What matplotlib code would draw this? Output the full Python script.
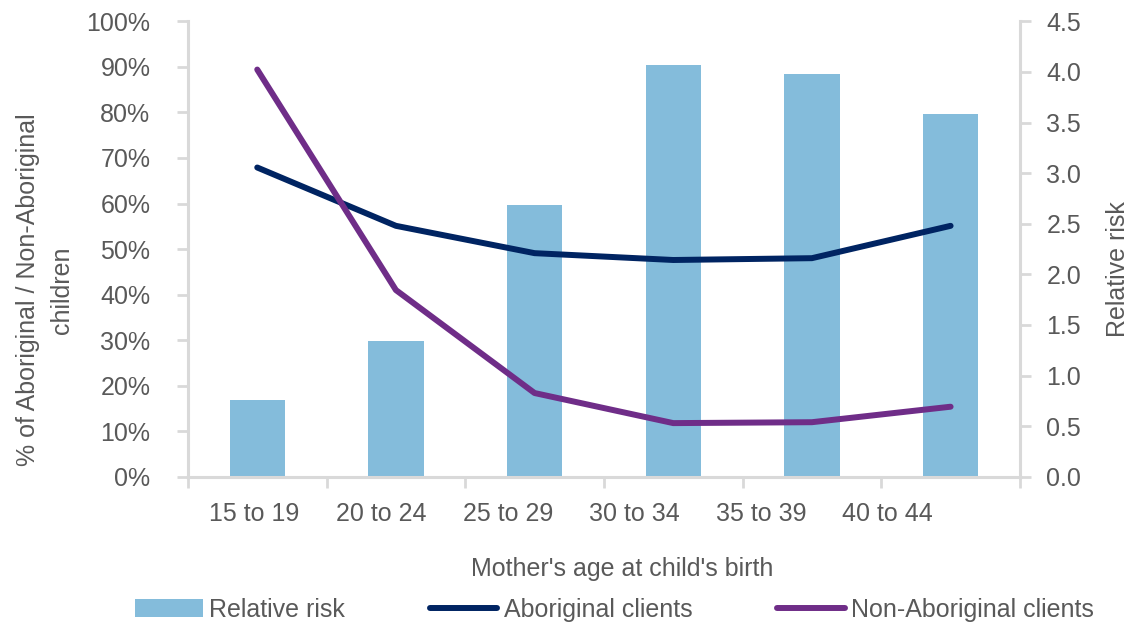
import matplotlib
matplotlib.use("Agg")
import matplotlib.pyplot as plt
import numpy as np
from matplotlib.ticker import FuncFormatter, MultipleLocator, FixedLocator
from matplotlib.patches import Patch
from matplotlib.lines import Line2D

categories = ["15 to 19", "20 to 24", "25 to 29", "30 to 34", "35 to 39", "40 to 44"]
relative_risk = [0.76, 1.34, 2.69, 4.07, 3.98, 3.58]
aboriginal = [67.9, 55.1, 49.1, 47.6, 48.0, 55.1]
non_aboriginal = [89.4, 41.0, 18.4, 11.8, 12.0, 15.4]

plt.rcParams['font.family'] = ['Liberation Sans', 'DejaVu Sans']
TXT = '#595959'
AX = '#d9d9d9'
BAR = '#84bcdb'
NAVY = '#002462'
PURPLE = '#6f2d88'
FS = 18
LW = 4.3

fig = plt.figure(figsize=(11.32, 6.25), dpi=100)
ax = fig.add_axes([0.166, 0.237, 0.735, 0.729])
ax2 = ax.twinx()

x = np.arange(len(categories))

# bars on right axis (drawn behind lines)
ax2.bar(x, relative_risk, width=0.4, color=BAR, zorder=1)
ax2.set_ylim(0, 4.5)
ax2.yaxis.set_major_locator(MultipleLocator(0.5))
ax2.yaxis.set_major_formatter(FuncFormatter(lambda v, p: f"{v:.1f}"))

# lines on left axis drawn above bars
ax.set_zorder(ax2.get_zorder() + 1)
ax.patch.set_visible(False)
ax.plot(x, aboriginal, color=NAVY, lw=LW, solid_capstyle='round', solid_joinstyle='round', zorder=3)
ax.plot(x, non_aboriginal, color=PURPLE, lw=LW, solid_capstyle='round', solid_joinstyle='round', zorder=3)
ax.set_ylim(0, 100)
ax.set_xlim(-0.5, len(categories) - 0.5)
ax.yaxis.set_major_locator(MultipleLocator(10))
ax.yaxis.set_major_formatter(FuncFormatter(lambda v, p: f"{v:.0f}%"))

# x ticks: boundary marks + labels
ax.xaxis.set_minor_locator(FixedLocator(np.arange(len(categories) + 1) - 0.5))
ax.set_xticks(x * 0.913 - 0.02)
ax.set_xticklabels(categories)
ax.tick_params(axis='x', which='major', length=0, pad=18, labelsize=FS, labelcolor=TXT)
ax.tick_params(axis='x', which='minor', length=8, width=2, color=AX, direction='out')
ax.tick_params(axis='y', length=8, width=2, color=AX, pad=19, labelsize=FS, labelcolor=TXT)
ax2.tick_params(axis='y', length=8, width=2, color=AX, pad=11, labelsize=FS, labelcolor=TXT)

for a in (ax, ax2):
    a.spines['top'].set_visible(False)
    for s in ('left', 'right', 'bottom'):
        a.spines[s].set_color(AX)
        a.spines[s].set_linewidth(2.2)
ax.spines['right'].set_visible(False)
ax2.spines['left'].set_visible(False)
ax2.spines['bottom'].set_visible(False)

ax.set_xlabel("Mother's age at child's birth", fontsize=FS, color=TXT)
ax.xaxis.set_label_coords(0.522, -0.175)
ax.set_ylabel("% of Aboriginal / Non-Aboriginal\nchildren", fontsize=FS, color=TXT, linespacing=1.5)
ax.yaxis.set_label_coords(-0.137, 0.41)
ax2.set_ylabel("Relative risk", fontsize=FS, color=TXT)
ax2.yaxis.set_label_coords(1.104, 0.456)

handles = [Patch(facecolor=BAR, edgecolor='none'),
           Line2D([0], [0], color=NAVY, lw=LW, solid_capstyle='round'),
           Line2D([0], [0], color=PURPLE, lw=LW, solid_capstyle='round')]
leg = fig.legend(handles, ["Relative risk", "Aboriginal clients", "Non-Aboriginal clients"],
                 loc='center', bbox_to_anchor=(0.543, 0.024), ncol=3, frameon=False,
                 fontsize=FS, handlelength=2.7, handleheight=0.75, handletextpad=0.25,
                 columnspacing=3.4, labelcolor=TXT)

fig.savefig("out.png", dpi=100)
